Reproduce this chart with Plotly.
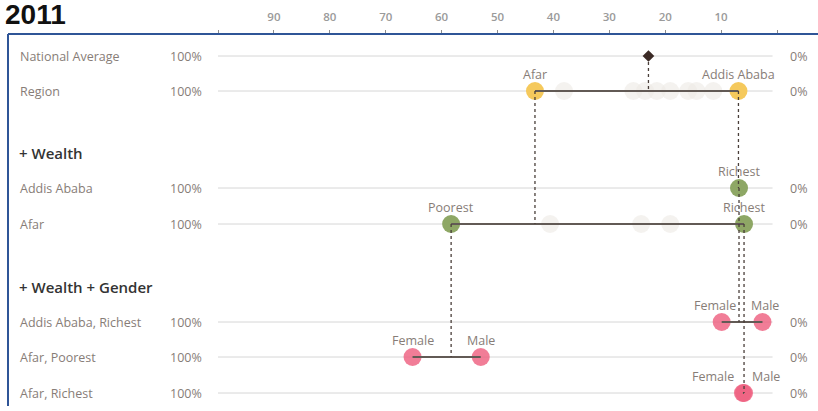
import plotly.graph_objects as go

W, H = 818, 411

# ---- data (percent values) ----
row_labels = ["National Average", "Region", "Addis Ababa", "Afar",
              "Addis Ababa, Richest", "Afar, Poorest", "Afar, Richest"]
headings = ["+ Wealth", "+ Wealth + Gender"]

national_avg = 23.0

region_names = ["Afar", "Addis Ababa"]
region_vals = [43.3, 6.9]
other_regions = [38.1, 25.7, 23.6, 21.5, 19.1, 15.9, 14.4, 11.4]

addis_wealth_names = ["Richest"]
addis_wealth_vals = [6.8]
afar_wealth_names = ["Poorest", "Richest"]
afar_wealth_vals = [58.3, 5.9]
afar_wealth_other = [40.6, 24.3, 19.1]

gender_names = ["Female", "Male"]
addis_richest_gender = [9.9, 2.6]
afar_poorest_gender = [65.2, 53.0]
afar_richest_gender = [6.1, 5.9]

tick_vals = [100, 90, 80, 70, 60, 50, 40, 30, 20, 10, 0]
tick_text = ["", "90", "80", "70", "60", "50", "40", "30", "20", "10", ""]

# ---- layout helpers ----
row_y = [56, 91, 188, 224, 322, 357, 393]
heading_y = [153, 287]
axis_y = 34
x_left, x_right = 139.0, -7.33      # value range across the full 818px width

YELLOW = "#f5c95c"
GREEN = "#8ea765"
PINK = "rgba(238,96,128,0.82)"
GHOST = "rgba(236,233,228,0.6)"
LINE = "#625a55"
DOT = "#4a3f3a"
LABEL = "#877d77"
FONT = "Open Sans"

fig = go.Figure()

# grid lines
for y in row_y:
    fig.add_shape(type="line", x0=100, x1=0.8, y0=y, y1=y, xref="x", yref="y",
                  line=dict(color="#d6d6d6", width=1), layer="below")

# ghost dots (other regions / quintiles)
fig.add_trace(go.Scatter(x=other_regions, y=[row_y[1]] * len(other_regions), mode="markers",
                         marker=dict(size=18, color=GHOST, line=dict(width=0)), hoverinfo="skip"))
fig.add_trace(go.Scatter(x=afar_wealth_other, y=[row_y[3]] * len(afar_wealth_other), mode="markers",
                         marker=dict(size=18, color=GHOST, line=dict(width=0)), hoverinfo="skip"))

# main dots
groups = [
    (region_vals, row_y[1], YELLOW),
    (addis_wealth_vals, row_y[2], GREEN),
    (afar_wealth_vals, row_y[3], GREEN),
    (addis_richest_gender, row_y[4], PINK),
    (afar_poorest_gender, row_y[5], PINK),
    (afar_richest_gender, row_y[6], PINK),
]
for vals, y, col in groups:
    fig.add_trace(go.Scatter(x=vals, y=[y] * len(vals), mode="markers",
                             marker=dict(size=18, color=col, line=dict(width=0)), hoverinfo="skip"))

# range lines drawn on top of the dots
for vals, y, col in groups:
    if len(vals) > 1:
        fig.add_trace(go.Scatter(x=[vals[0], vals[-1]], y=[y, y], mode="lines",
                                 line=dict(color=LINE, width=2), hoverinfo="skip"))

# dotted drop lines parent -> child
drops = [
    (national_avg, row_y[0], row_y[1]),
    (region_vals[0], row_y[1], row_y[3]),
    (region_vals[1], row_y[1], row_y[2]),
    (addis_wealth_vals[0], row_y[2], row_y[4]),
    (afar_wealth_vals[0], row_y[3], row_y[5]),
    (afar_wealth_vals[1], row_y[3], row_y[6]),
]
for x, y0, y1 in drops:
    fig.add_trace(go.Scatter(x=[x, x], y=[y0, y1], mode="lines",
                             line=dict(color=DOT, width=1.3, dash="dot"), hoverinfo="skip"))

# national average diamond
fig.add_trace(go.Scatter(x=[national_avg], y=[row_y[0]], mode="markers",
                         marker=dict(symbol="diamond", size=9, color="#3b2a25"), hoverinfo="skip"))

annotations = []


def dot_label(text, x, y, xshift=0):
    annotations.append(dict(x=x, y=y, xref="x", yref="y", text=text, showarrow=False,
                            yshift=17, xshift=xshift, font=dict(family=FONT, size=12.5, color=LABEL)))


for n, v in zip(region_names, region_vals):
    dot_label(n, v, row_y[1])
for n, v in zip(addis_wealth_names, addis_wealth_vals):
    dot_label(n, v, row_y[2])
for n, v in zip(afar_wealth_names, afar_wealth_vals):
    dot_label(n, v, row_y[3])
for n, v, s in zip(gender_names, addis_richest_gender, [-7, 3]):
    dot_label(n, v, row_y[4], s)
for n, v in zip(gender_names, afar_poorest_gender):
    dot_label(n, v, row_y[5])
for n, v, s in zip(gender_names, afar_richest_gender, [-30, 22]):
    dot_label(n, v, row_y[6], s)

# row labels, 100% / 0% end labels
for lab, y in zip(row_labels, row_y):
    annotations.append(dict(x=18 / W, y=y, xref="paper", yref="y", text=lab, showarrow=False,
                            xanchor="left", font=dict(family=FONT, size=12.5, color=LABEL)))
    annotations.append(dict(x=204 / W, y=y, xref="paper", yref="y", text="100%", showarrow=False,
                            xanchor="right", font=dict(family=FONT, size=12.5, color=LABEL)))
    annotations.append(dict(x=788 / W, y=y, xref="paper", yref="y", text="0%", showarrow=False,
                            xanchor="left", font=dict(family=FONT, size=12.5, color=LABEL)))

for h, y in zip(headings, heading_y):
    annotations.append(dict(x=17 / W, y=y, xref="paper", yref="y", text=h, showarrow=False,
                            xanchor="left", font=dict(family=FONT, size=15, color="#333333", weight=600)))

annotations.append(dict(x=3 / W, y=14, xref="paper", yref="y", text="<b>2011</b>", showarrow=False,
                        xanchor="left", font=dict(family="Liberation Sans", size=28, color="#111111")))

# frame: top and left border
fig.add_shape(type="line", xref="paper", yref="y", x0=8 / W, x1=1.0, y0=axis_y, y1=axis_y,
              line=dict(color="#2f5597", width=2))
fig.add_shape(type="line", xref="paper", yref="y", x0=8 / W, x1=8 / W, y0=axis_y, y1=406,
              line=dict(color="#2f5597", width=2))

fig.update_layout(
    width=W, height=H,
    margin=dict(l=0, r=0, t=0, b=0),
    paper_bgcolor="white", plot_bgcolor="white",
    showlegend=False,
    annotations=annotations,
    xaxis=dict(range=[x_left, x_right], domain=[0, 1], anchor="free", position=1 - axis_y / H,
               side="top", tickvals=tick_vals, ticktext=tick_text, ticks="outside", ticklen=4,
               tickcolor="#8c8c8c", tickwidth=1, showgrid=False, zeroline=False, showline=False,
               ticklabelstandoff=4,
               tickfont=dict(family=FONT, size=11.5, color="#9a9a9a", weight=600)),
    yaxis=dict(range=[H, 0], domain=[0, 1], visible=False, showgrid=False, zeroline=False),
)

# page body has a default 8px margin; drop it so the figure sits at the window origin
fig.write_html("out.html", config={"displayModeBar": False},
               post_script="document.body.style.margin='0';document.body.style.overflow='hidden';")
